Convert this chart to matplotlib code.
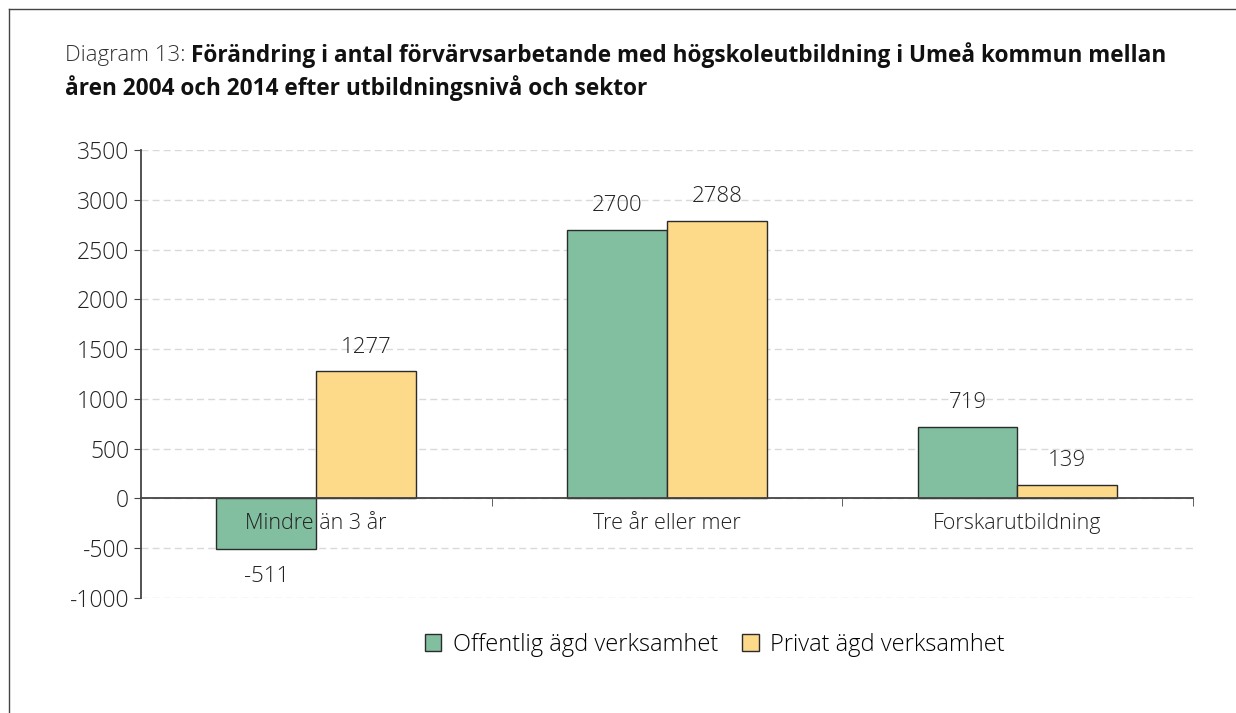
import matplotlib.pyplot as plt
import numpy as np

categories = ['Mindre än 3 år', 'Tre år eller mer', 'Forskarutbildning']
offentlig = [-511, 2700, 719]
privat = [1277, 2788, 139]
series_names = ['Offentlig ägd verksamhet', 'Privat ägd verksamhet']

plt.rcParams['font.family'] = ['Open Sans', 'DejaVu Sans']
plt.rcParams['axes.unicode_minus'] = False

fig = plt.figure(figsize=(12.36, 7.13), dpi=100)
ax = fig.add_axes([0.114, 0.1613, 0.851, 0.6283])

x = np.arange(len(categories))
w = 0.285
b1 = ax.bar(x - w/2, offentlig, w, color='#82BFA0', edgecolor='#2b2b2b', linewidth=1, label=series_names[0], zorder=2)
b2 = ax.bar(x + w/2, privat, w, color='#FDD98A', edgecolor='#2b2b2b', linewidth=1, label=series_names[1], zorder=2)

for bars in (b1, b2):
    for r in bars:
        v = r.get_height()
        off = 24 if v >= 0 else -27
        ax.annotate(str(int(v)), (r.get_x() + r.get_width()/2, v), xytext=(0, off),
                    textcoords='offset pixels', ha='center', va='center',
                    fontsize=16, fontweight='light', color='#222222')

# category labels just under the zero line, drawn on top of the bars
for i, c in enumerate(categories):
    ax.annotate(c, (i, 0), xytext=(0, -25), textcoords='offset pixels', ha='center', va='center',
                fontsize=15.5, fontweight='light', color='#222222', zorder=5)

ax.set_xlim(-0.5, 2.5)
ax.set_ylim(-1000, 3500)
ax.set_yticks(range(-1000, 3501, 500))
ax.yaxis.grid(True, linestyle=(0, (5, 3)), color='#D9D9D9', linewidth=1, zorder=0)
ax.set_axisbelow(True)
ax.spines['top'].set_visible(False)
ax.spines['right'].set_visible(False)
ax.spines['bottom'].set_position(('data', 0))
ax.spines['bottom'].set_zorder(3)
ax.spines['bottom'].set_color('#444444')
ax.spines['left'].set_color('#444444')
ax.spines['bottom'].set_linewidth(1.3)
ax.spines['left'].set_linewidth(1.3)
ax.set_xticks([])
ax.set_xticks([0.5, 1.5, 2.5], minor=True)
ax.tick_params(axis='x', which='minor', length=6, direction='out', color='#444444')
ax.tick_params(axis='y', length=5, labelsize=16.5, labelcolor='#222222', color='#444444')
for lab in ax.get_yticklabels():
    lab.set_fontweight('light')

t1 = fig.text(65/1236, 1 - 55/713, 'Diagram 13: ', fontsize=16, fontweight='light', color='#333333', va='center', ha='left')
fig.canvas.draw()
bb = t1.get_window_extent()
fig.text(bb.x1 / fig.bbox.width, 1 - 55/713,
         'Förändring i antal förvärvsarbetande med högskoleutbildning i Umeå kommun mellan',
         fontsize=16.3, fontweight='bold', color='#111111', va='center', ha='left')
fig.text(65/1236, 1 - 88/713, 'åren 2004 och 2014 efter utbildningsnivå och sektor',
         fontsize=16.3, fontweight='bold', color='#111111', va='center', ha='left')

fig.legend(handles=[b1, b2], labels=series_names, loc='center', bbox_to_anchor=(715/1236, 1 - 645/713),
           ncol=2, frameon=False, prop={'size': 17, 'weight': 'light'}, handlelength=0.7, handleheight=0.7,
           handletextpad=0.5, columnspacing=1.0)

fig.add_artist(plt.Line2D([9/1236, 9/1236], [0, 1 - 9/713], color='#444444', linewidth=1))
fig.add_artist(plt.Line2D([9/1236, 1], [1 - 9/713, 1 - 9/713], color='#444444', linewidth=1))

fig.savefig('out.png', dpi=100)
